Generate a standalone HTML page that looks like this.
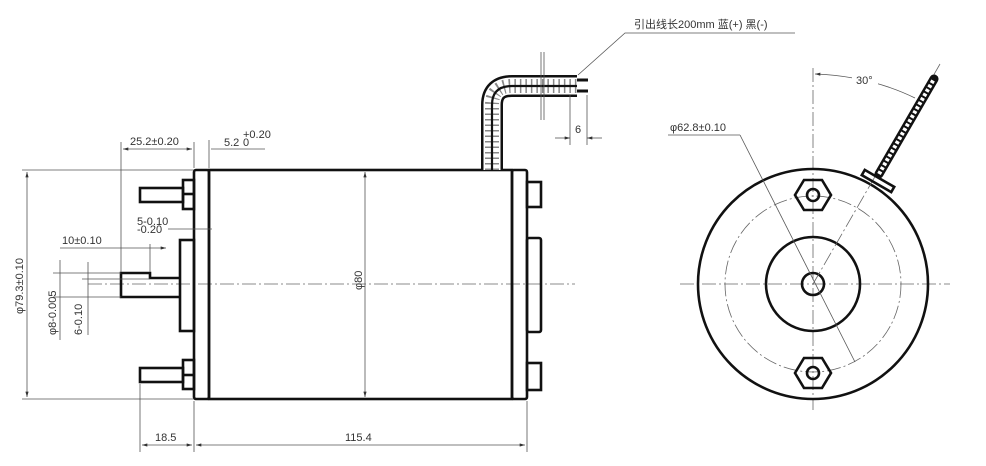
<!DOCTYPE html>
<html><head><meta charset="utf-8"><style>
html,body{margin:0;padding:0;background:#fff;width:986px;height:466px;overflow:hidden}
svg{display:block}
text{font-family:"Liberation Sans","Noto Sans CJK SC",sans-serif;fill:#333;font-size:11px}
.t{stroke:#111;stroke-width:2.6;fill:none}
.n{stroke:#555;stroke-width:0.8;fill:none}
.c{stroke:#666;stroke-width:0.8;fill:none;stroke-dasharray:14 3 2 3}
</style></head><body>
<svg width="986" height="466" viewBox="0 0 986 466" xmlns="http://www.w3.org/2000/svg">
<defs><marker id="a" viewBox="0 0 10 6" refX="10" refY="3" markerWidth="8" markerHeight="4" orient="auto-start-reverse"><path d="M0,0L10,3L0,6z" fill="#333"/></marker></defs>
<!-- left view -->
<line class="c" x1="88" y1="284" x2="575" y2="284"/>
<rect class="t" x="209" y="170" width="303" height="229"/>
<rect class="t" x="194" y="170" width="15" height="229" rx="2"/>
<rect class="t" x="512" y="170" width="15" height="229" rx="2"/>
<rect class="t" x="180" y="240" width="14" height="91"/>
<path class="t" d="M180,278 L150,278 L150,273 L121,273 L121,297 L180,297"/>
<rect class="t" x="140" y="188" width="43" height="14"/>
<rect class="t" x="183" y="180" width="11" height="29"/>
<line class="t" x1="183" y1="194" x2="194" y2="194"/>
<rect class="t" x="140" y="368" width="43" height="14"/>
<rect class="t" x="183" y="360" width="11" height="29"/>
<line class="t" x1="183" y1="375" x2="194" y2="375"/>
<rect class="t" x="527" y="238" width="14" height="94" rx="2"/>
<rect class="t" x="527" y="182" width="14" height="25"/>
<rect class="t" x="527" y="363" width="14" height="27"/>
<!-- dims left -->
<line class="n" x1="22" y1="170" x2="194" y2="170"/>
<line class="n" x1="22" y1="399" x2="194" y2="399"/>
<line class="n" x1="27" y1="172" x2="27" y2="397" marker-start="url(#a)" marker-end="url(#a)"/>
<text transform="translate(23,286) rotate(-90)" text-anchor="middle">φ79.3±0.10</text>
<line class="n" x1="121" y1="142" x2="121" y2="272"/>
<line class="n" x1="194" y1="142" x2="194" y2="168"/>
<line class="n" x1="209" y1="140" x2="209" y2="168"/>
<line class="n" x1="123" y1="149" x2="192" y2="149" marker-start="url(#a)" marker-end="url(#a)"/>
<text x="130" y="145">25.2±0.20</text>
<line class="n" x1="211" y1="149" x2="265" y2="149"/>
<text x="224" y="146">5.2</text><text x="243" y="138" font-size="7">+0.20</text><text x="243" y="146" font-size="7">0</text>
<line class="n" x1="168" y1="229" x2="212" y2="229"/>
<text x="137" y="225" font-size="9">5-0.10</text><text x="137" y="233" font-size="7">-0.20</text>
<line class="n" x1="60" y1="248" x2="166" y2="248" marker-end="url(#a)"/>
<line class="n" x1="150" y1="244" x2="150" y2="272"/>
<text x="62" y="244">10±0.10</text>
<line class="n" x1="53" y1="273" x2="121" y2="273"/>
<line class="n" x1="53" y1="297" x2="121" y2="297"/>
<line class="n" x1="82" y1="279" x2="150" y2="279"/>
<line class="n" x1="60" y1="260" x2="60" y2="340" />
<line class="n" x1="88" y1="262" x2="88" y2="335"/>
<text transform="translate(56,335) rotate(-90)" font-size="9">φ8-0.005</text>
<text transform="translate(82,335) rotate(-90)" font-size="9">6-0.10</text>
<line class="n" x1="140" y1="384" x2="140" y2="452"/>
<line class="n" x1="194" y1="401" x2="194" y2="452"/>
<line class="n" x1="527" y1="401" x2="527" y2="452"/>
<line class="n" x1="142" y1="445" x2="192" y2="445" marker-start="url(#a)" marker-end="url(#a)"/>
<line class="n" x1="196" y1="445" x2="525" y2="445" marker-start="url(#a)" marker-end="url(#a)"/>
<text x="155" y="441">18.5</text>
<text x="345" y="441">115.4</text>
<line class="n" x1="365" y1="172" x2="365" y2="397" marker-start="url(#a)" marker-end="url(#a)"/>
<text transform="translate(362,290) rotate(-90)" font-size="10">φ80</text>
<!-- lead tube -->
<path d="M492,170 L492,105 Q492,86 512,86 L577,86" stroke="#111" stroke-width="22" fill="none"/>
<path d="M492,170 L492,105 Q492,86 512,86 L577,86" stroke="#fff" stroke-width="17" fill="none"/>
<path d="M492,170 L492,105 Q492,86 512,86 L577,86" stroke="#888" stroke-width="14" fill="none" stroke-dasharray="1.5 4"/>
<path d="M492,170 L492,105 Q492,86 512,86 L577,86" stroke="#111" stroke-width="2.2" fill="none"/>
<line x1="577" y1="80" x2="588" y2="80" stroke="#111" stroke-width="3"/>
<line x1="577" y1="91" x2="588" y2="91" stroke="#111" stroke-width="3"/>
<line class="n" x1="541" y1="52" x2="541" y2="120"/>
<line class="n" x1="544" y1="52" x2="544" y2="120"/>
<line class="n" x1="570" y1="95" x2="570" y2="145"/>
<line class="n" x1="587" y1="95" x2="587" y2="145"/>
<line class="n" x1="555" y1="138" x2="570" y2="138" marker-end="url(#a)"/>
<line class="n" x1="602" y1="138" x2="587" y2="138" marker-end="url(#a)"/>
<text x="575" y="133" font-size="10">6</text>
<polyline class="n" points="578,75 625,33 795,33"/>
<text x="634" y="28" font-size="12">引出线长200mm 蓝(+) 黑(-)</text>
<!-- right view -->
<line class="c" x1="680" y1="284" x2="950" y2="284"/>
<line class="c" x1="813" y1="68" x2="813" y2="410"/>
<circle class="t" cx="813" cy="284" r="115"/>
<circle class="c" cx="813" cy="284" r="88"/>
<circle class="t" cx="813" cy="284" r="47"/>
<circle class="t" cx="813" cy="284" r="11"/>
<polygon class="t" points="795,195 804,180 822,180 831,195 822,210 804,210" stroke-width="2"/>
<circle class="t" cx="813" cy="195" r="6" stroke-width="2"/>
<polygon class="t" points="795,373 804,358 822,358 831,373 822,388 804,388" stroke-width="2"/>
<circle class="t" cx="813" cy="373" r="6" stroke-width="2"/>
<line class="c" x1="813" y1="284" x2="940" y2="64"/>
<line class="n" x1="740" y1="135" x2="855" y2="362"/>
<line class="n" x1="668" y1="135" x2="740" y2="135"/>
<text x="670" y="131">φ62.8±0.10</text>
<g transform="translate(878,181) rotate(30)"><rect x="-17" y="-3" width="34" height="6" class="t" stroke-width="1.8" fill="#fff"/></g>
<line x1="879" y1="174" x2="934" y2="79" stroke="#111" stroke-width="9" stroke-linecap="round"/>
<line x1="879" y1="174" x2="934" y2="79" stroke="#fff" stroke-width="4" stroke-dasharray="3 2"/>
<path class="n" d="M815,74 Q870,76 915,98" marker-start="url(#a)"/>
<rect x="852" y="74" width="26" height="12" fill="#fff"/>
<text x="856" y="84" font-size="10">30°</text>
</svg>
</body></html>
